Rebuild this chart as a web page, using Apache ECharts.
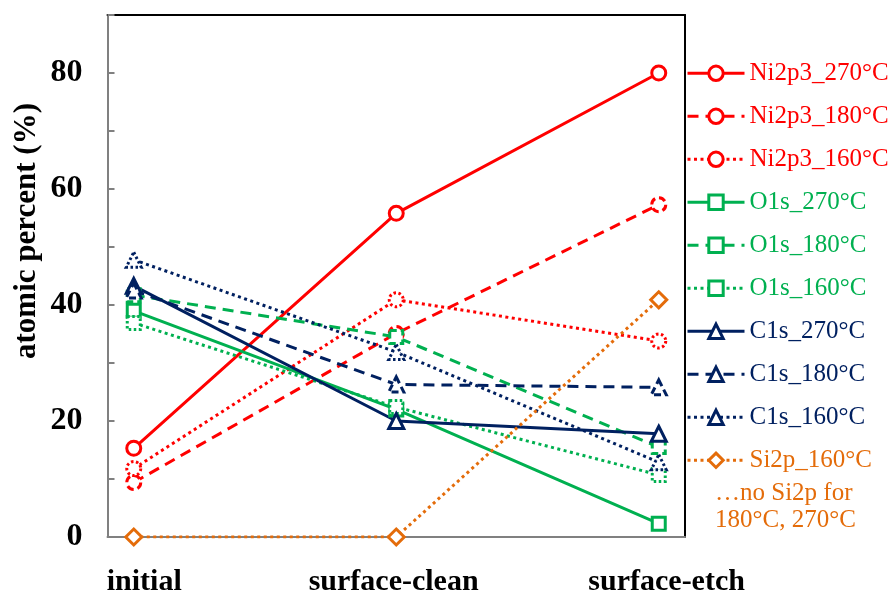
<!DOCTYPE html>
<html>
<head>
<meta charset="utf-8">
<script src="https://cdn.jsdelivr.net/npm/echarts@6/dist/echarts.min.js"></script>
<style>
  html, body { margin: 0; padding: 0; background: #fff; }
  #chart { width: 892px; height: 591px; }
</style>
</head>
<body>
<div id="chart"></div>
<script>
// Sample stages along the x axis (0, 1, 2)
const stages = ['initial', 'surface-clean', 'surface-etch'];
const stageIndex = [0, 1, 2];
// Where the stage names sit under the axis (in stage units)
const stageLabelAt = [0.04, 0.99, 2.03];

// Atomic percent per element and anneal temperature
const ni270 = [15.3, 55.8, 80.0];
const ni180 = [9.4, 35.1, 57.3];
const ni160 = [11.8, 40.9, 33.8];
const o270 = [39.0, 22.0, 2.3];
const o180 = [41.7, 34.5, 15.5];
const o160 = [36.9, 22.4, 10.7];
const c270 = [43.3, 20.0, 17.8];
const c180 = [42.5, 26.3, 25.8];
const c160 = [47.8, 31.9, 12.9];
const si160 = [0, 0, 40.9];

const yTicks = [0, 20, 40, 60, 80];

const RED = '#FF0000', GREEN = '#00B050', NAVY = '#002060', ORANGE = '#E46C0A';
const SERIF = '"Liberation Serif", "Times New Roman", serif';

const DASH = [11, 7];
const DOT = [3, 3.5];
const dashFor = { solid: 'solid', dashed: DASH, dotted: DOT };
const borderFor = { solid: 'solid', dashed: [7, 4], dotted: [2.5, 2.5] };

function pairs(vals) { return vals.map((v, i) => [stageIndex[i], v]); }

function line(name, vals, color, style, symbol, size, markerStyle) {
  return {
    name, type: 'line', data: pairs(vals),
    symbol, symbolSize: size,
    lineStyle: { color, width: 3, type: dashFor[style] },
    itemStyle: {
      color: '#fff', borderColor: color, borderWidth: 3,
      borderType: borderFor[markerStyle || style]
    },
    emphasis: { disabled: true },
    z: 2
  };
}

const series = [
  line('Ni2p3_270°C', ni270, RED, 'solid', 'circle', 14),
  line('Ni2p3_180°C', ni180, RED, 'dashed', 'circle', 14),
  line('Ni2p3_160°C', ni160, RED, 'dotted', 'circle', 14),
  line('O1s_270°C', o270, GREEN, 'solid', 'rect', 13),
  line('O1s_180°C', o180, GREEN, 'dashed', 'rect', 13),
  line('O1s_160°C', o160, GREEN, 'dotted', 'rect', 13),
  line('C1s_270°C', c270, NAVY, 'solid', 'triangle', 15),
  line('C1s_180°C', c180, NAVY, 'dashed', 'triangle', 15),
  line('C1s_160°C', c160, NAVY, 'dotted', 'triangle', 15),
  line('Si2p_160°C', si160, ORANGE, 'dotted', 'diamond', 16, 'solid')
];

const chart = echarts.init(document.getElementById('chart'), null, { renderer: 'canvas' });

chart.setOption({
  animation: false,
  backgroundColor: '#fff',
  grid: {
    left: 107.5, right: 207, top: 15, bottom: 54,
    containLabel: false, outerBoundsMode: 'none'
  },
  xAxis: [
    {
      type: 'value', min: -0.1, max: 2.1, position: 'bottom',
      axisLine: { show: true, onZero: false, lineStyle: { color: '#808080', width: 2 } },
      axisTick: { show: false },
      splitLine: { show: false },
      axisLabel: {
        customValues: stageLabelAt,
        formatter: v => {
          const i = stageLabelAt.findIndex(p => Math.abs(p - v) < 1e-6);
          return i >= 0 ? stages[i] : '';
        },
        margin: 30,
        color: '#000', fontFamily: SERIF, fontWeight: 'bold', fontSize: 30
      }
    },
    {
      type: 'value', min: -0.1, max: 2.1, position: 'top',
      axisLine: { show: true, onZero: false, lineStyle: { color: '#000', width: 2 } },
      axisTick: { show: false }, axisLabel: { show: false }, splitLine: { show: false }
    }
  ],
  yAxis: [
    {
      type: 'value', min: 0, max: 90, interval: 10, position: 'left',
      axisLine: { show: true, onZero: false, lineStyle: { color: '#808080', width: 2 } },
      axisTick: { show: true, inside: true, length: 7, lineStyle: { color: '#808080', width: 2 } },
      splitLine: { show: false },
      axisLabel: {
        formatter: v => (yTicks.indexOf(v) >= 0 ? String(v) : ''),
        margin: 25,
        color: '#000', fontFamily: SERIF, fontWeight: 'bold', fontSize: 32
      }
    },
    {
      type: 'value', min: 0, max: 90, position: 'right',
      axisLine: { show: true, onZero: false, lineStyle: { color: '#000', width: 2 } },
      axisTick: { show: false }, axisLabel: { show: false }, splitLine: { show: false }
    }
  ],
  legend: {
    orient: 'vertical',
    left: 686, top: 60.8,
    padding: 0,
    itemWidth: 57, itemHeight: 18, itemGap: 18,
    selectedMode: false,
    lineStyle: { width: 3 },
    itemStyle: { borderWidth: 3 },
    textStyle: { fontFamily: SERIF, fontSize: 25, lineHeight: 25 },
    data: series.map(s => ({ name: s.name, textStyle: { color: s.lineStyle.color } }))
  },
  graphic: [
    {
      type: 'text', x: 27, y: 231, rotation: Math.PI / 2,
      style: {
        text: 'atomic percent (%)', fill: '#000',
        font: 'bold 31px ' + SERIF,
        align: 'center', verticalAlign: 'middle'
      }
    },
    {
      type: 'text', x: 715, y: 480,
      style: {
        text: '…no Si2p for\n180°C, 270°C', fill: ORANGE,
        font: '25px ' + SERIF, lineHeight: 27,
        align: 'left', verticalAlign: 'top'
      }
    }
  ],
  series
});
</script>
</body>
</html>
